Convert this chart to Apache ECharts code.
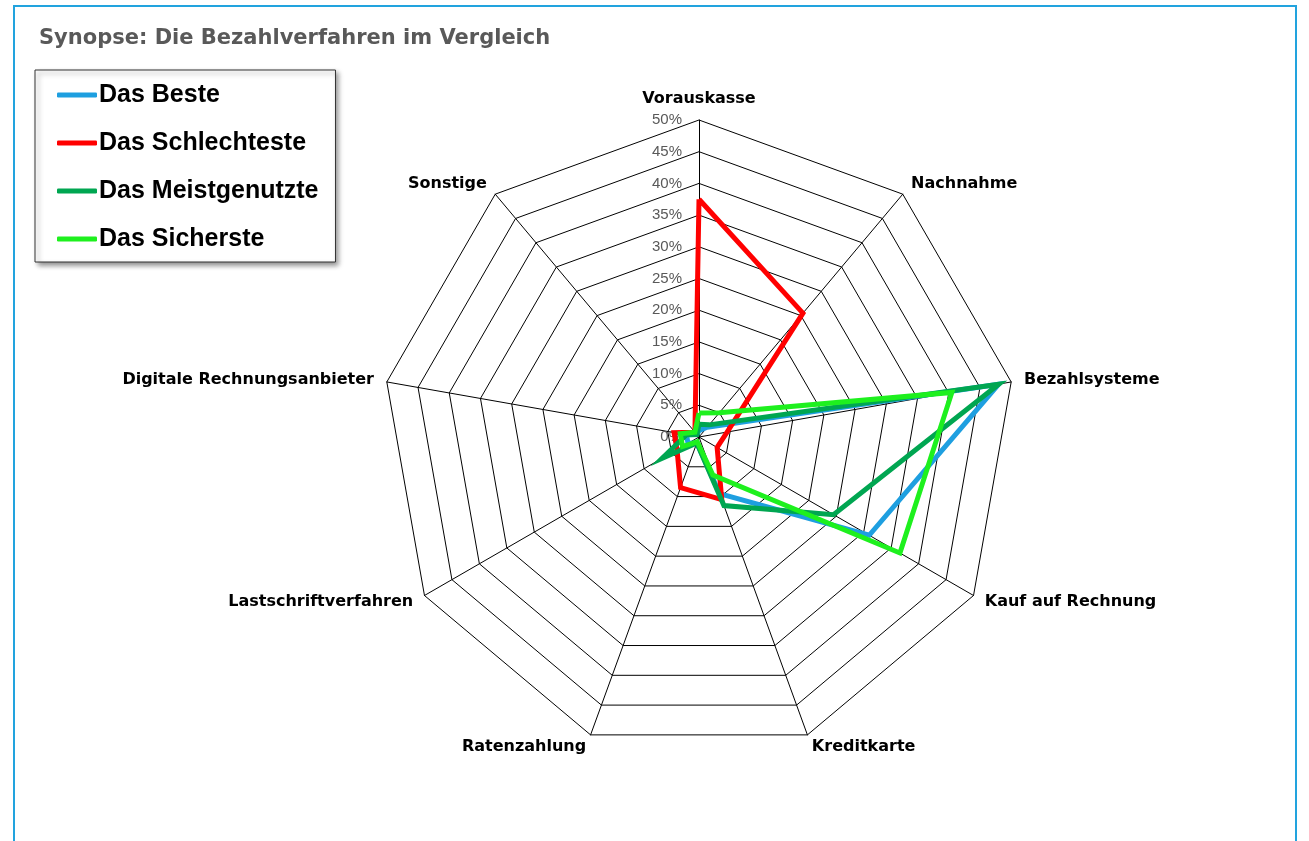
<!DOCTYPE html>
<html>
<head>
<meta charset="utf-8">
<script src="https://cdn.jsdelivr.net/npm/echarts@6/dist/echarts.min.js"></script>
<style>
  html, body { margin: 0; padding: 0; background: #fff; }
  #frame { position: absolute; left: 13px; top: 5px; width: 1284px; height: 860px; border: 2px solid #22A3DE; box-sizing: border-box; }
  #chart { position: absolute; left: 0; top: 0; width: 1309px; height: 841px; }
</style>
</head>
<body>
<div id="frame"></div>
<div id="chart"></div>
<script>
const titleText = 'Synopse: Die Bezahlverfahren im Vergleich';
const categories = ['Vorauskasse', 'Nachnahme', 'Bezahlsysteme', 'Kauf auf Rechnung', 'Kreditkarte',
  'Ratenzahlung', 'Lastschriftverfahren', 'Digitale Rechnungsanbieter', 'Sonstige'];
const seriesNames = ['Das Beste', 'Das Schlechteste', 'Das Meistgenutzte', 'Das Sicherste'];
const seriesColors = ['#1E9FE0', '#FF0000', '#00A651', '#1EF01E'];
const dasBeste = [1, 2, 48, 31, 9.5, 1, 2, 2, 0.5];
const dasSchlechteste = [37.5, 25.5, 4.5, 3.3, 10.5, 8.5, 4, 4, 1];
const dasMeistgenutzte = [2, 2.5, 48, 24.5, 11.5, 1, 6.7, 2, 0.5];
const dasSicherste = [3.8, 5, 40.5, 36.6, 6.4, 0.8, 3, 3, 1];
const axisMax = 50;
const axisSplits = 10;

const FONT = '"Liberation Sans", Arial, sans-serif';
const FONT_WIDE = '"DejaVu Sans", "Liberation Sans", sans-serif';
// ECharts radar runs counter-clockwise; reorder so the chart reads clockwise
const reorder = arr => [arr[0]].concat(arr.slice(1).reverse());
const cats = reorder(categories);
const allData = [dasBeste, dasSchlechteste, dasMeistgenutzte, dasSicherste];

const chart = echarts.init(document.getElementById('chart'), null, { renderer: 'canvas' });
chart.setOption({
  animation: false,
  title: {
    text: titleText, left: 34, top: 23,
    textStyle: { color: '#595959', fontSize: 21, fontWeight: 'bold', fontFamily: FONT_WIDE }
  },
  legend: {
    orient: 'vertical', left: 35, top: 70,
    data: seriesNames,
    backgroundColor: '#fff', borderColor: '#333', borderWidth: 1,
    shadowColor: 'rgba(0,0,0,0.45)', shadowBlur: 5, shadowOffsetX: 3, shadowOffsetY: 3,
    padding: [11, 17, 9, 22],
    itemWidth: 40, itemHeight: 5, itemGap: 20,
    icon: 'roundRect',
    textStyle: { color: '#000', fontSize: 25, fontWeight: 'bold', fontFamily: FONT, lineHeight: 28, padding: [0, 0, 0, -3] }
  },
  radar: {
    center: [699, 437], radius: 317,
    startAngle: 90, shape: 'polygon', splitNumber: axisSplits,
    nameGap: 13,
    axisName: { color: '#000', fontSize: 16, fontWeight: 'bold', fontFamily: FONT_WIDE },
    splitLine: { lineStyle: { color: '#000', width: 1 } },
    splitArea: { show: false },
    axisLine: { lineStyle: { color: '#000', width: 1 } },
    axisTick: { show: false },
    axisLabel: { show: false },
    indicator: cats.map((c, i) => {
      const ind = { name: c, min: 0, max: axisMax };
      if (i === 0) ind.axisLabel = {
        show: true, formatter: '{value}%', color: '#595959', fontSize: 15, fontFamily: FONT,
        margin: 17, align: 'right', verticalAlign: 'middle'
      };
      return ind;
    })
  },
  series: [{
    type: 'radar',
    symbol: 'none',
    data: allData.map((d, i) => ({
      name: seriesNames[i],
      value: reorder(d),
      itemStyle: { color: seriesColors[i] },
      lineStyle: { color: seriesColors[i], width: 5, join: 'miter' }
    }))
  }]
});
</script>
</body>
</html>
